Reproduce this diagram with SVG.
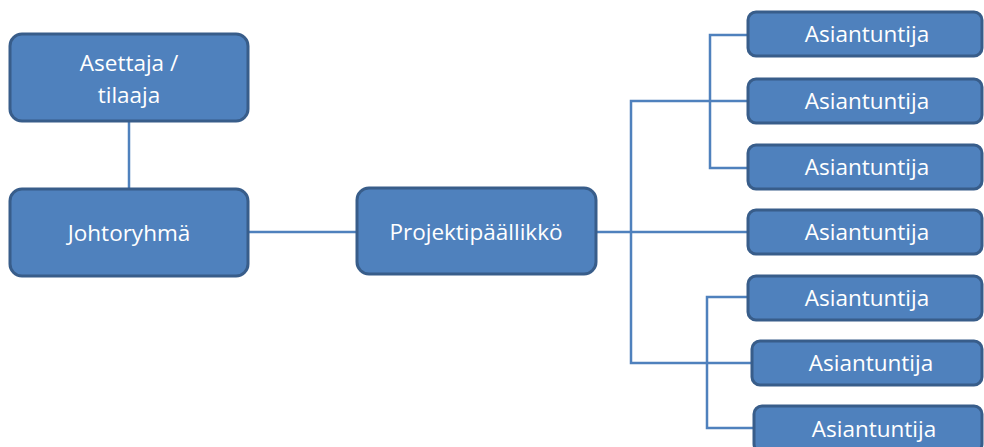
<svg xmlns="http://www.w3.org/2000/svg" width="984" height="447" viewBox="0 0 984 447">
<style>
.box{fill:#4F81BD;stroke:#385D8A;stroke-width:3}
.lbl{fill:#FFFFFF;font-family:"Open Sans","Noto Sans",sans-serif;font-size:22.5px;text-anchor:middle}
.ln{fill:none;stroke:#4F81BD;stroke-width:2.5}
</style>
<rect width="984" height="447" fill="#FFFFFF"/>
<g id="connectors">
<path class="ln" d="M129,122 V188"/>
<path class="ln" d="M249,232 H357"/>
<path class="ln" d="M597,232 H748"/>
<path class="ln" d="M748,101 H631 V363 H752"/>
<path class="ln" d="M748,35 H710 V168 H748"/>
<path class="ln" d="M748,297 H707 V428 H754"/>
</g>
<g id="asettaja"><rect class="box" x="10" y="34" width="238" height="87" rx="12"/><text class="lbl" x="129" y="71">Asettaja /</text><text class="lbl" x="129" y="103">tilaaja</text></g>
<g id="johtoryhma"><rect class="box" x="10" y="189" width="238" height="87" rx="12"/><text class="lbl" x="129" y="241">Johtoryhmä</text></g>
<g id="projektipaallikko"><rect class="box" x="357" y="188" width="239" height="86" rx="12"/><text class="lbl" x="476" y="240">Projektipäällikkö</text></g>
<g id="asiantuntija1"><rect class="box" x="748" y="12" width="234" height="44" rx="8"/><text class="lbl" x="867" y="42">Asiantuntija</text></g>
<g id="asiantuntija2"><rect class="box" x="748" y="79" width="234" height="44" rx="8"/><text class="lbl" x="867" y="109">Asiantuntija</text></g>
<g id="asiantuntija3"><rect class="box" x="748" y="145" width="234" height="44" rx="8"/><text class="lbl" x="867" y="175">Asiantuntija</text></g>
<g id="asiantuntija4"><rect class="box" x="748" y="210" width="234" height="44" rx="8"/><text class="lbl" x="867" y="240">Asiantuntija</text></g>
<g id="asiantuntija5"><rect class="box" x="748" y="276" width="234" height="44" rx="8"/><text class="lbl" x="867" y="306">Asiantuntija</text></g>
<g id="asiantuntija6"><rect class="box" x="752" y="341" width="230" height="44" rx="8"/><text class="lbl" x="871" y="371">Asiantuntija</text></g>
<g id="asiantuntija7"><rect class="box" x="754" y="406" width="228" height="46" rx="8"/><text class="lbl" x="874" y="437">Asiantuntija</text></g>
</svg>
